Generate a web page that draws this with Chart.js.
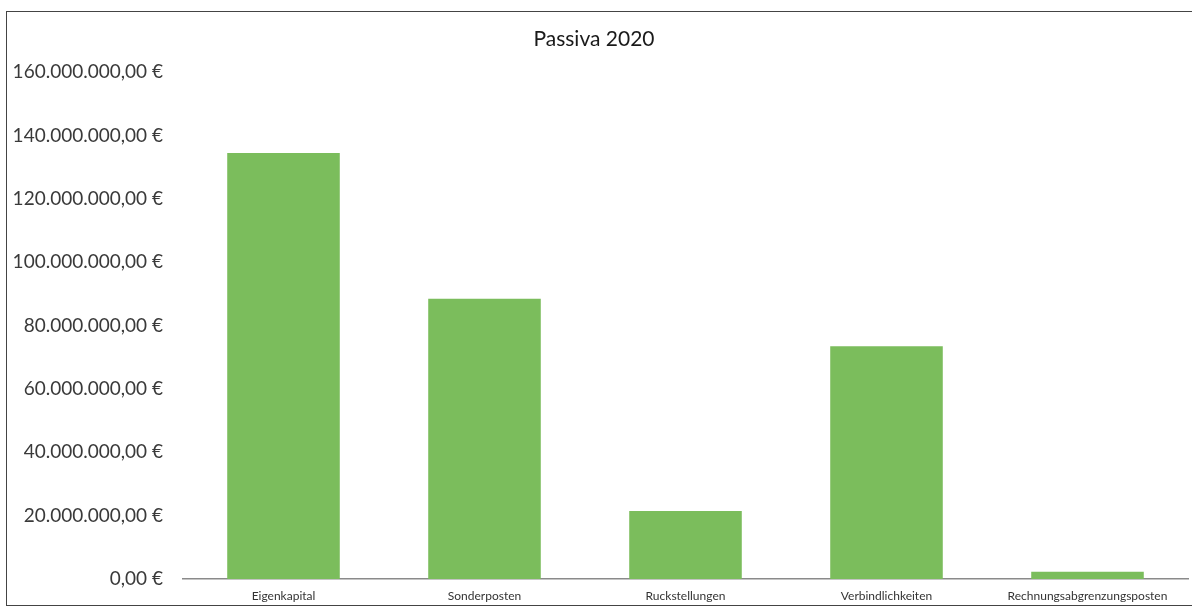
<!DOCTYPE html>
<html lang="de">
<head>
<meta charset="utf-8">
<title>Passiva 2020</title>
<script src="https://cdn.jsdelivr.net/npm/chart.js@4"></script>
<style>
  html, body { margin: 0; padding: 0; background: #fff; overflow: hidden; }
  #wrap { position: absolute; left: 0; top: 0; width: 1192px; height: 614px; }
  /* Rahmen um das Diagramm */
  #frame {
    position: absolute;
    left: 6px;
    top: 11px;
    width: 1200px;
    height: 595px;
    border: 1.5px solid #444;
    box-sizing: border-box;
    pointer-events: none;
  }
</style>
</head>
<body>
<div id="wrap"><canvas id="chart"></canvas></div>
<div id="frame"></div>
<script>
const positionen = [
  "Eigenkapital",
  "Sonderposten",
  "Ruckstellungen",
  "Verbindlichkeiten",
  "Rechnungsabgrenzungsposten",
];
const betraege = [134500000, 88500000, 21500000, 73500000, 2300000];
const achseMax = 160000000;
const achseSchritt = 20000000;

// 160000000 -> "160.000.000,00 €"
function euro(v) {
  const ganz = Math.round(v).toString().replace(/\B(?=(\d{3})+(?!\d))/g, ".");
  return `${ganz},00 €`;
}

const schrift = "Lato, 'Open Sans', sans-serif";

const ctx = document.getElementById("chart");
new Chart(ctx, {
  type: "bar",
  data: {
    labels: positionen,
    datasets: [
      {
        label: "Passiva 2020",
        data: betraege,
        backgroundColor: "#7bbd5c",
        borderWidth: 0,
        barPercentage: 0.56,
        categoryPercentage: 1,
      },
    ],
  },
  options: {
    responsive: true,
    maintainAspectRatio: false,
    animation: false,
    layout: { padding: { left: 0, right: 4, top: 0, bottom: 7 } },
    plugins: {
      legend: { display: false },
      tooltip: { enabled: false },
      title: {
        display: true,
        text: "Passiva 2020",
        color: "#1a1a1a",
        font: { family: schrift, size: 21, weight: "normal" },
        padding: { top: 27, bottom: 20 },
      },
    },
    scales: {
      x: {
        grid: { display: false },
        border: { display: true, color: "#8a8a8a", width: 1.5 },
        ticks: {
          color: "#333",
          font: { family: schrift, size: 12 },
          padding: 2,
          maxRotation: 0,
          autoSkip: false,
        },
        afterFit: (scale) => {
          scale.height = 28;
        },
      },
      y: {
        min: 0,
        max: achseMax,
        grid: { display: false },
        border: { display: false },
        ticks: {
          stepSize: achseSchritt,
          color: "#3a3a3a",
          font: { family: schrift, size: 19 },
          padding: 12,
          callback: (v) => euro(v),
        },
        afterFit: (scale) => {
          scale.width = 183;
        },
      },
    },
  },
});
</script>
</body>
</html>
